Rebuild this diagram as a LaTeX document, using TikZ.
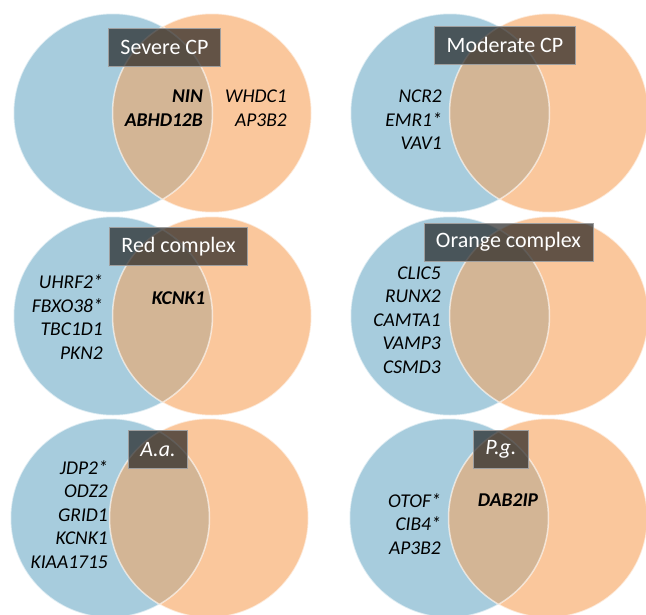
\documentclass[tikz,border=0pt]{standalone}
\usepackage{fontspec}
\setmainfont{Carlito}

\definecolor{vennblue}{RGB}{167,204,221}
\definecolor{vennorange}{RGB}{250,199,156}
\definecolor{vennboth}{RGB}{211,181,149}
\definecolor{titlefill}{RGB}{32,32,32}

\tikzset{
    rim/.style={draw=white, draw opacity=0.6, line width=1.5pt},
    titlebox/.style={fill=titlefill, fill opacity=0.69, text opacity=1, draw=gray!75, line width=0.8pt,
        text=white, font=\fontsize{22}{26}\selectfont, inner xsep=12pt, minimum height=38pt},
    genes/.style={align=right, anchor=east, inner sep=0pt, font=\fontsize{19.5}{23.5}\selectfont\itshape},
    shared/.style={genes, font=\fontsize{19.5}{23.5}\selectfont\bfseries\itshape},
}

\begin{document}
\begin{tikzpicture}[x=1pt,y=-1pt]
    \useasboundingbox (0,0) rectangle (646,614);
    \clip (0,0) rectangle (646,614);

    % Circles
    \foreach \cx/\cy in {113/113,450/113,113/316,450/316,110/518,449/518} {
        \fill[vennblue] (\cx,\cy) circle (99.5pt);
        \fill[vennorange] (\cx+99,\cy) circle (99.5pt);
        \begin{scope}
            \clip (\cx,\cy) circle (99.5pt);
            \fill[vennboth] (\cx+99,\cy) circle (99.5pt);
        \end{scope}
        \draw[rim] (\cx,\cy) circle (99.5pt) (\cx+99,\cy) circle (99.5pt);
    }

    % Titles
    \node[titlebox] (tsevere) at (164.5,47) {Severe CP};
    \node[titlebox] (tmoderate) at (505,45) {Moderate CP};
    \node[titlebox] (tred) at (178.5,246.5) {Red complex};
    \node[titlebox] (torange) at (508.5,242) {Orange complex};
    \node[titlebox] (taa) at (158,449.5) {\itshape A.a.};
    \node[titlebox] (tpg) at (501,449.5) {\itshape P.g.};

    % Genes
    \node[shared] (gsevboth) at (203,108) {NIN\\ABHD12B};
    \node[genes] (gsevright) at (287,108) {WHDC1\\AP3B2};
    \node[genes] (gmodleft) at (442,120) {NCR2\\EMR1*\\VAV1};
    \node[genes] (gredleft) at (103,317) {UHRF2*\\FBXO38*\\TBC1D1\\PKN2};
    \node[shared, anchor=center] (gredboth) at (178.5,298) {KCNK1};
    \node[genes] (goraleft) at (441,320) {CLIC5\\RUNX2\\CAMTA1\\VAMP3\\CSMD3};
    \node[genes] (gaaleft) at (108,514.5) {JDP2*\\ODZ2\\GRID1\\KCNK1\\KIAA1715};
    \node[genes] (gpgleft) at (441,524) {OTOF*\\CIB4*\\AP3B2};
    \node[shared, anchor=center] (gpgboth) at (508,500) {DAB2IP};
\end{tikzpicture}
\end{document}
